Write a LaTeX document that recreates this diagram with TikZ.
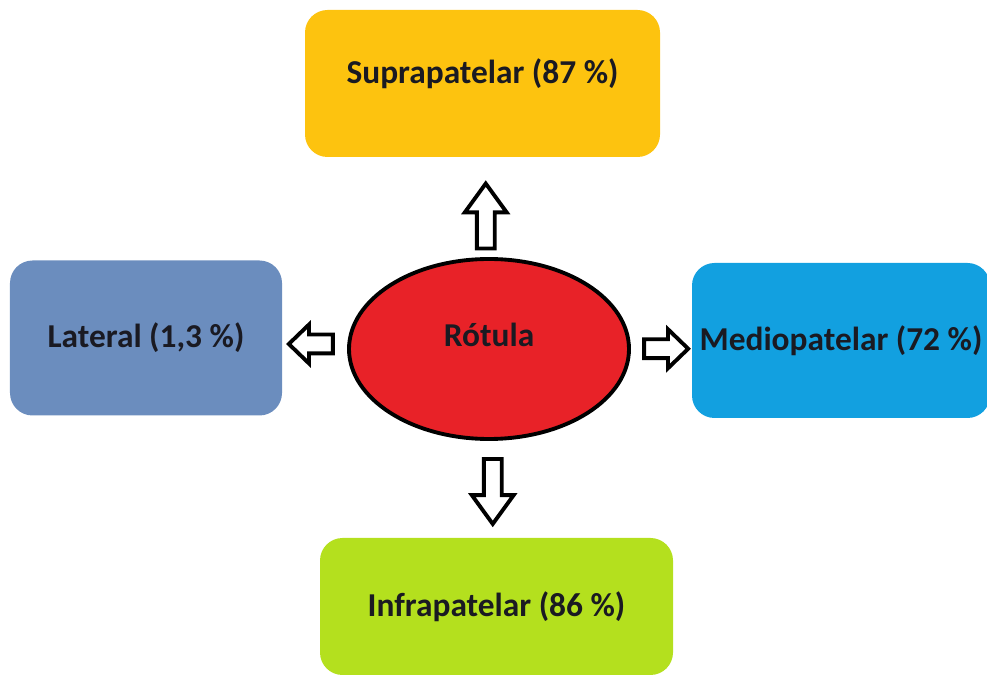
\documentclass[tikz,border=0pt]{standalone}
\usepackage{fontspec}
\setmainfont{Carlito}
\usetikzlibrary{shapes, arrows, positioning, calc}

\definecolor{supraC}{HTML}{FDC30F}
\definecolor{lateralC}{HTML}{6B8DBE}
\definecolor{medioC}{HTML}{12A0E0}
\definecolor{infraC}{HTML}{B4E01E}
\definecolor{rotulaC}{HTML}{E82228}
\definecolor{textC}{HTML}{1A1A22}

\tikzset{
    zone/.style={rectangle, rounded corners=0.45cm, inner sep=0pt, text=textC,
        font=\fontsize{19}{22}\selectfont\bfseries},
    fatarrow/.style={single arrow, draw=black, fill=white, line width=2.2pt,
        inner xsep=0pt, inner ysep=0.14cm, minimum width=0pt,
        single arrow head extend=0.24cm, single arrow tip angle=72},
    sidearrow/.style={fatarrow, inner ysep=0.15cm, minimum height=0.88cm,
        single arrow head extend=0.2cm, single arrow tip angle=88}
}

\begin{document}
\begin{tikzpicture}
    \useasboundingbox (0,0) rectangle (19.74,13.68);
    % patella in the middle
    \node[ellipse, draw=black, line width=2.2pt, fill=rotulaC, text=textC,
        minimum width=5.6cm, minimum height=3.6cm, text depth=0.55cm,
        font=\fontsize{19}{22}\selectfont\bfseries] (rotula) at (9.78,6.70) {Rótula};
    % the four zones
    \node[zone, fill=supraC, minimum width=7.1cm, minimum height=2.94cm,
        text depth=0.5cm] (supra) at (9.65,12.01) {Suprapatelar (87 \%)};
    \node[zone, fill=lateralC, minimum width=5.44cm, minimum height=3.1cm] (lateral) at (2.92,6.92) {Lateral (1,3 \%)};
    \node[zone, fill=medioC, minimum width=5.96cm, minimum height=3.1cm] (medio) at (16.82,6.87) {Mediopatelar (72 \%)};
    \node[zone, fill=infraC, minimum width=7.06cm, minimum height=2.74cm] (infra) at (9.93,1.55) {Infrapatelar (86 \%)};
    % block arrows
    \node[fatarrow, minimum height=1.3cm, rotate=90] (toSupra) at ($(rotula.north)!0.5!(supra.south)+(0,-0.3)$) {};
    \node[fatarrow, minimum height=1.3cm, rotate=-90] (toInfra) at ($(rotula.south)!0.5!(infra.north)+(0,0.08)$) {};
    \node[sidearrow, rotate=180] (toLateral) at ($(rotula.west)!0.5!(lateral.east)+(0.02,-0.01)$) {};
    \node[sidearrow] (toMedio) at ($(rotula.east)!0.5!(medio.west)+(0,-0.08)$) {};
\end{tikzpicture}
\end{document}
